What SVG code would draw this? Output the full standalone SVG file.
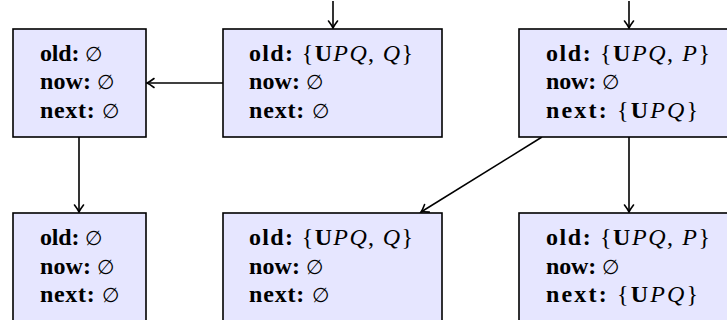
<svg xmlns="http://www.w3.org/2000/svg" width="727" height="320" viewBox="0 0 727 320">
<style>
.box{fill:#e6e6ff;stroke:#000;stroke-width:1.6}
.t{font-family:"Liberation Serif","DejaVu Serif",serif;font-size:24px;fill:#000}
.b{font-weight:bold}
.i{font-style:italic}
.e{font-family:"DejaVu Serif",serif;font-size:20px}
.c{stroke:#000;stroke-width:1.6;fill:none}
</style>
<defs>
<marker id="ah" markerWidth="14" markerHeight="14" refX="11" refY="7" orient="auto" markerUnits="userSpaceOnUse">
<path d="M4,2.5 Q8.5,6 11,7 Q8.5,8 4,11.5" fill="none" stroke="#000" stroke-width="1.6" stroke-linecap="round"/>
</marker>
</defs>
<g id="connectors">
<line class="c" x1="333" y1="1" x2="333" y2="28" marker-end="url(#ah)"/>
<line class="c" x1="629" y1="1" x2="629" y2="28" marker-end="url(#ah)"/>
<line class="c" x1="223" y1="83" x2="147" y2="83" marker-end="url(#ah)"/>
<line class="c" x1="79" y1="137" x2="79" y2="212" marker-end="url(#ah)"/>
<line class="c" x1="629" y1="137" x2="629" y2="212" marker-end="url(#ah)"/>
<line class="c" x1="542" y1="137" x2="421" y2="212" marker-end="url(#ah)"/>
</g>
<g id="n1">
<rect class="box" x="13" y="29" width="133" height="108"/>
<text class="t" x="40" y="61" textLength="62" lengthAdjust="spacing"><tspan class="b">old:</tspan> <tspan class="e">∅</tspan></text>
<text class="t" x="40" y="89" textLength="74" lengthAdjust="spacing"><tspan class="b">now:</tspan> <tspan class="e">∅</tspan></text>
<text class="t" x="40" y="118" textLength="79" lengthAdjust="spacing"><tspan class="b">next:</tspan> <tspan class="e">∅</tspan></text>
</g>
<g id="n2">
<rect class="box" x="223" y="29" width="219" height="108"/>
<text class="t" x="249" y="61" textLength="164" lengthAdjust="spacing"><tspan class="b">old:</tspan> {<tspan class="b">U</tspan><tspan class="i">PQ</tspan>, <tspan class="i">Q</tspan>}</text>
<text class="t" x="249" y="89" textLength="74" lengthAdjust="spacing"><tspan class="b">now:</tspan> <tspan class="e">∅</tspan></text>
<text class="t" x="249" y="118" textLength="80" lengthAdjust="spacing"><tspan class="b">next:</tspan> <tspan class="e">∅</tspan></text>
</g>
<g id="n3">
<rect class="box" x="519" y="29" width="230" height="108"/>
<text class="t" x="546" y="61" textLength="164" lengthAdjust="spacing"><tspan class="b">old:</tspan> {<tspan class="b">U</tspan><tspan class="i">PQ</tspan>, <tspan class="i">P</tspan>}</text>
<text class="t" x="546" y="89" textLength="73" lengthAdjust="spacing"><tspan class="b">now:</tspan> <tspan class="e">∅</tspan></text>
<text class="t" x="546" y="118" textLength="152" lengthAdjust="spacing"><tspan class="b">next:</tspan> {<tspan class="b">U</tspan><tspan class="i">PQ</tspan>}</text>
</g>
<g id="n4">
<rect class="box" x="13" y="213" width="133" height="120"/>
<text class="t" x="40" y="245" textLength="62" lengthAdjust="spacing"><tspan class="b">old:</tspan> <tspan class="e">∅</tspan></text>
<text class="t" x="40" y="274" textLength="74" lengthAdjust="spacing"><tspan class="b">now:</tspan> <tspan class="e">∅</tspan></text>
<text class="t" x="40" y="302" textLength="79" lengthAdjust="spacing"><tspan class="b">next:</tspan> <tspan class="e">∅</tspan></text>
</g>
<g id="n5">
<rect class="box" x="223" y="213" width="219" height="120"/>
<text class="t" x="249" y="245" textLength="164" lengthAdjust="spacing"><tspan class="b">old:</tspan> {<tspan class="b">U</tspan><tspan class="i">PQ</tspan>, <tspan class="i">Q</tspan>}</text>
<text class="t" x="249" y="274" textLength="74" lengthAdjust="spacing"><tspan class="b">now:</tspan> <tspan class="e">∅</tspan></text>
<text class="t" x="249" y="302" textLength="80" lengthAdjust="spacing"><tspan class="b">next:</tspan> <tspan class="e">∅</tspan></text>
</g>
<g id="n6">
<rect class="box" x="519" y="213" width="230" height="120"/>
<text class="t" x="546" y="245" textLength="164" lengthAdjust="spacing"><tspan class="b">old:</tspan> {<tspan class="b">U</tspan><tspan class="i">PQ</tspan>, <tspan class="i">P</tspan>}</text>
<text class="t" x="546" y="274" textLength="73" lengthAdjust="spacing"><tspan class="b">now:</tspan> <tspan class="e">∅</tspan></text>
<text class="t" x="546" y="302" textLength="152" lengthAdjust="spacing"><tspan class="b">next:</tspan> {<tspan class="b">U</tspan><tspan class="i">PQ</tspan>}</text>
</g>
</svg>
